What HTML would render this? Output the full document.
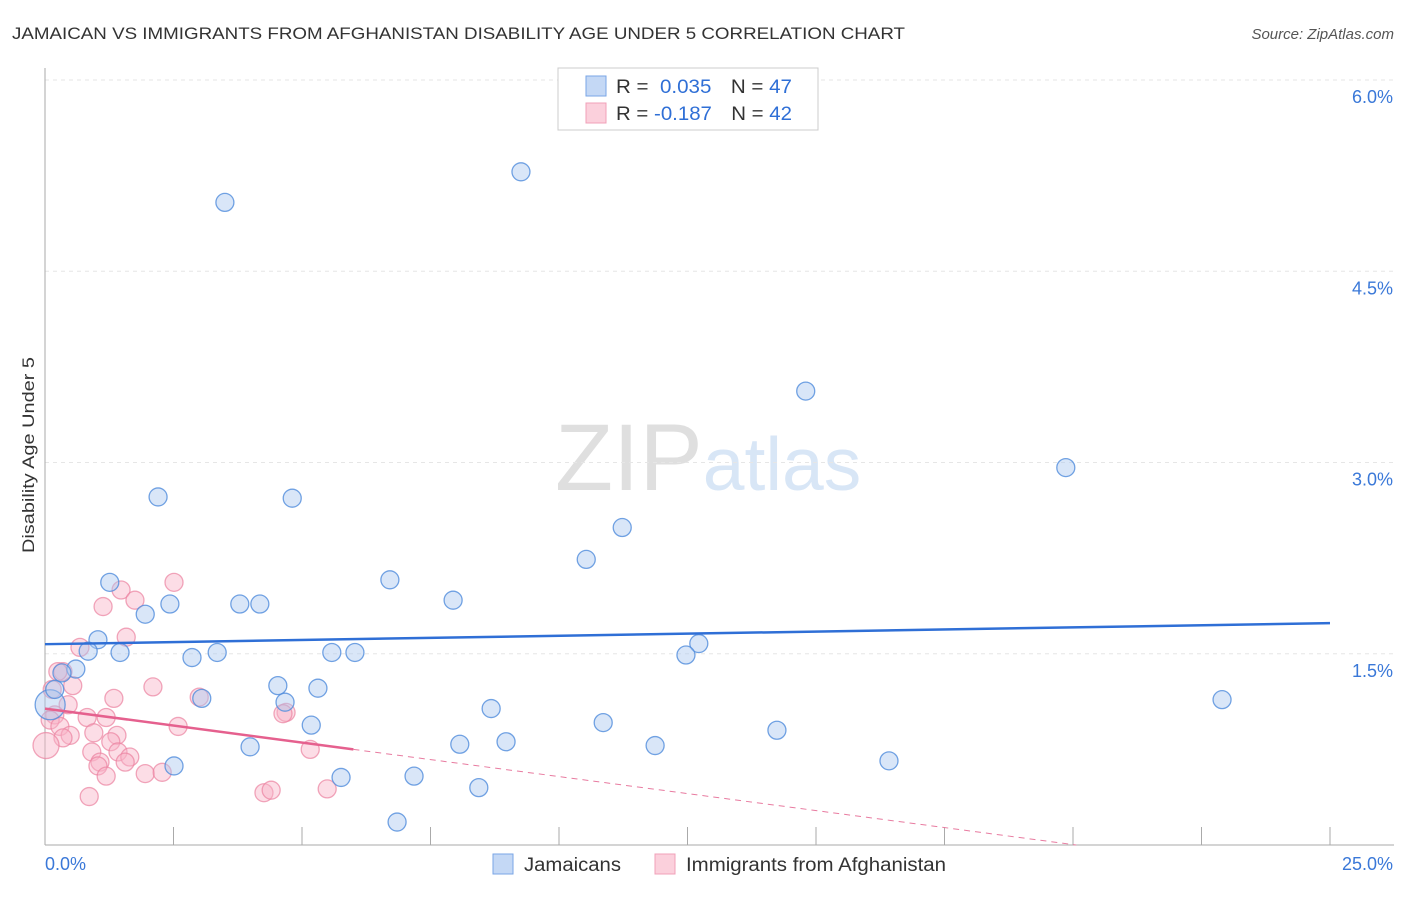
<!DOCTYPE html>
<html><head><meta charset="utf-8"><style>
body{margin:0;background:#fff;font-family:"Liberation Sans",sans-serif;}
svg text{font-family:"Liberation Sans",sans-serif;}
</style></head><body>
<svg id="chart" width="1406" height="892" xmlns="http://www.w3.org/2000/svg">
<text x="12" y="39" font-size="17" fill="#333" textLength="893" lengthAdjust="spacingAndGlyphs">JAMAICAN VS IMMIGRANTS FROM AFGHANISTAN DISABILITY AGE UNDER 5 CORRELATION CHART</text>
<text x="1394" y="39" font-size="15" fill="#555" text-anchor="end" font-style="italic">Source: ZipAtlas.com</text>
<text x="555" y="490" font-size="95" font-family="Liberation Serif" fill="#ddd" opacity="0.8"><tspan fill="#d8d8d8">ZIP</tspan><tspan fill="#cfe0f5" font-family="Liberation Sans" font-size="75">atlas</tspan></text>
<text transform="translate(34,455) rotate(-90)" font-size="17" fill="#333" text-anchor="middle" textLength="196" lengthAdjust="spacingAndGlyphs">Disability Age Under 5</text>
<g id="grid"></g><g id="axes"></g><g id="marks"></g>
<g>
<rect x="558" y="68" width="260" height="62" fill="#fff" stroke="#ccc"/>
<rect x="586" y="76" width="20" height="20" fill="#c4d8f5" stroke="#7aa6e6"/>
<rect x="586" y="103" width="20" height="20" fill="#fbd0dc" stroke="#f0a0b8"/>
<text x="616" y="93" font-size="19" fill="#333" textLength="176" lengthAdjust="spacingAndGlyphs">R = <tspan fill="#2f6fd6">&#160;0.035</tspan><tspan dx="18">N = </tspan><tspan fill="#2f6fd6">47</tspan></text>
<text x="616" y="120" font-size="19" fill="#333" textLength="176" lengthAdjust="spacingAndGlyphs">R = <tspan fill="#2f6fd6">-0.187</tspan><tspan dx="18">N = </tspan><tspan fill="#2f6fd6">42</tspan></text>
</g>
<g>
<rect x="493" y="854" width="20" height="20" fill="#c4d8f5" stroke="#7aa6e6"/>
<text x="524" y="871" font-size="19" fill="#333" textLength="97" lengthAdjust="spacingAndGlyphs">Jamaicans</text>
<rect x="655" y="854" width="20" height="20" fill="#fbd0dc" stroke="#f0a0b8"/>
<text x="686" y="871" font-size="19" fill="#333" textLength="260" lengthAdjust="spacingAndGlyphs">Immigrants from Afghanistan</text>
</g>
</svg>
<script>
const xTicks=[0,2.5,5,7.5,10,12.5,15,17.5,20,22.5,25];
const yTicks=[1.5,3.0,4.5,6.0];
const yTickLabels=["1.5%","3.0%","4.5%","6.0%"];
const xLabels=["0.0%","25.0%"];
const blueX=[3.50,9.26,14.80,19.86,2.20,4.81,11.23,10.53,1.26,6.71,7.94,2.43,3.79,4.18,1.95,1.03,12.72,0.84,1.46,3.35,5.58,6.03,12.47,0.60,0.33,2.86,4.53,5.31,3.05,4.67,22.90,8.68,5.18,10.86,14.24,3.99,8.07,8.97,11.87,2.51,16.42,5.76,7.18,8.44,6.85,0.10,0.19];
const blueY=[5.04,5.28,3.56,2.96,2.73,2.72,2.49,2.24,2.06,2.08,1.92,1.89,1.89,1.89,1.81,1.61,1.58,1.52,1.51,1.51,1.51,1.51,1.49,1.38,1.35,1.47,1.25,1.23,1.15,1.12,1.14,1.07,0.94,0.96,0.90,0.77,0.79,0.81,0.78,0.62,0.66,0.53,0.54,0.45,0.18,1.10,1.22];
const pinkX=[2.51,1.48,1.75,1.13,1.58,0.68,0.35,0.54,2.10,1.34,3.00,0.45,4.69,0.19,0.10,0.82,1.19,2.59,0.29,0.49,0.95,1.40,0.35,1.28,0.91,1.42,1.65,1.07,1.56,0.02,5.16,1.03,1.19,1.95,2.28,4.26,4.40,5.49,0.86,0.14,4.63,0.25];
const pinkY=[2.06,2.00,1.92,1.87,1.63,1.55,1.36,1.25,1.24,1.15,1.16,1.10,1.04,1.02,0.98,1.00,1.00,0.93,0.93,0.86,0.88,0.86,0.84,0.81,0.73,0.73,0.69,0.65,0.65,0.78,0.75,0.62,0.54,0.56,0.57,0.41,0.43,0.44,0.38,1.22,1.03,1.36];
const blueTrend=[1.575,1.74];
const pinkTrend=[1.07,0.75,6.0];
const NS="http://www.w3.org/2000/svg";
const X=v=>45+v/25*1285, Y=v=>845-v/6*765;
function mk(t,a,p){const e=document.createElementNS(NS,t);for(const k in a)e.setAttribute(k,a[k]);document.getElementById(p).appendChild(e);return e;}
yTicks.forEach((t,i)=>{
 const l=mk('line',{x1:45,x2:1394,y1:Y(t),y2:Y(t),stroke:'#e6e6e6','stroke-dasharray':'4,4'},'grid');
 
 
 const tx=mk('text',{x:1393,y:Y(t)+23,'font-size':18,fill:'#3a78d8','text-anchor':'end'},'axes');tx.textContent=yTickLabels[i];
 
 
});
const ax=mk('line',{x1:45,x2:45,y1:68,y2:845,stroke:'#aaa'},'axes');


const bx=mk('line',{x1:45,x2:1394,y1:845,y2:845,stroke:'#aaa'},'axes');


xTicks.forEach(t=>{const l=mk('line',{x1:X(t),x2:X(t),y1:827,y2:845,stroke:'#aaa'},'axes');
 
 });
[[0,'start',45],[25,'end',1393]].forEach((d,i)=>{const t=mk('text',{x:d[2],y:870,'font-size':18,fill:'#3a78d8','text-anchor':d[1]},'axes');t.textContent=xLabels[i];
 
 });
pinkX.forEach((v,i)=>{const r=(i==29)?13:9;const c=mk('circle',{cx:X(v),cy:Y(pinkY[i]),r:r,fill:'rgba(248,180,200,0.45)',stroke:'rgba(235,130,160,0.7)','stroke-width':1.3},'marks');
 
 });
blueX.forEach((v,i)=>{const r=(i==45)?15:9;const c=mk('circle',{cx:X(v),cy:Y(blueY[i]),r:r,fill:'rgba(170,200,240,0.45)',stroke:'rgba(80,140,220,0.8)','stroke-width':1.3},'marks');
 
 });
const bl=mk('line',{x1:X(0),y1:Y(blueTrend[0]),x2:X(25),y2:Y(blueTrend[1]),stroke:'#2f6fd6','stroke-width':2.5},'marks');


const slope=(pinkTrend[1]-pinkTrend[0])/pinkTrend[2], xz=-pinkTrend[0]/slope;
const pd=mk('line',{x1:X(pinkTrend[2]),y1:Y(pinkTrend[1]),x2:X(xz),y2:Y(0),stroke:'#e87ba0','stroke-width':1,'stroke-dasharray':'6,5'},'marks');


const pl=mk('line',{x1:X(0),y1:Y(pinkTrend[0]),x2:X(pinkTrend[2]),y2:Y(pinkTrend[1]),stroke:'#e5608e','stroke-width':2.5},'marks');


</script>
</body></html>
